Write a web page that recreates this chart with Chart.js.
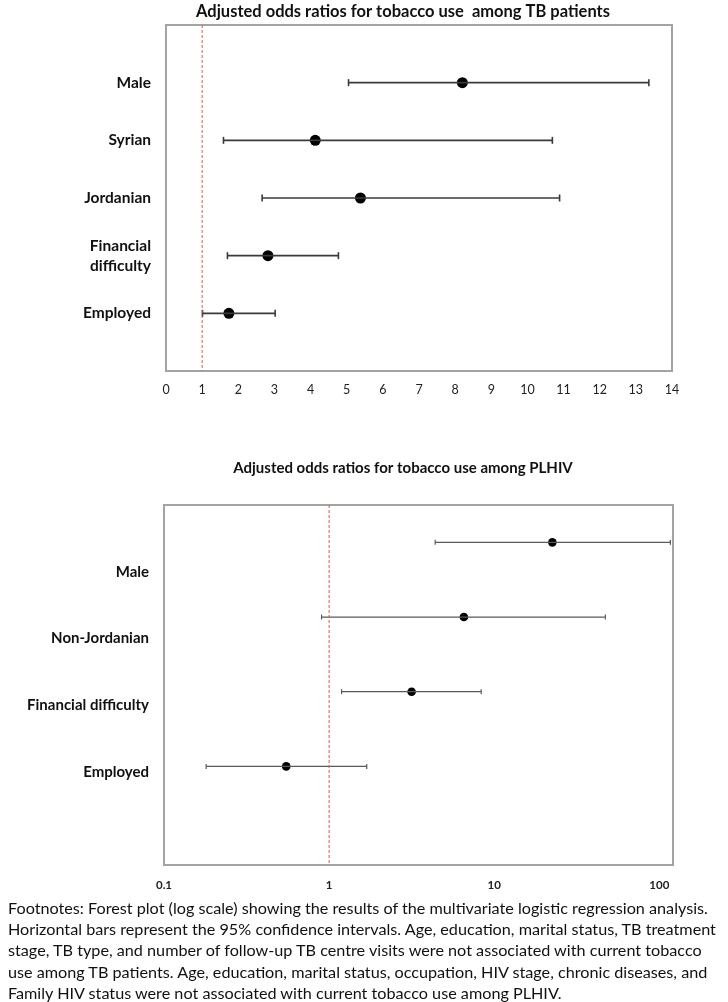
<!DOCTYPE html>
<html><head><meta charset="utf-8">
<script src="https://cdn.jsdelivr.net/npm/chart.js@4.4.0/dist/chart.umd.min.js"></script>
<style>
body{margin:0;background:#fff;width:728px;height:1002px;overflow:hidden;position:relative;font-family:Lato,sans-serif}
#w1{position:absolute;left:0;top:0;width:806px;height:400px}
#w2{position:absolute;left:0;top:455px;width:806px;height:445px}
#foot{position:absolute;left:8px;top:897px;font-size:16.2px;line-height:21.2px;color:#111;white-space:nowrap;font-family:Lato,sans-serif}
</style></head><body>
<div id="w1"><canvas id="c1" width="806" height="400"></canvas></div>
<div id="w2"><canvas id="c2" width="806" height="445"></canvas></div>
<div id="foot">Footnotes: Forest plot (log scale) showing the results of the multivariate logistic regression analysis.<br>Horizontal bars represent the 95% confidence intervals. Age, education, marital status, TB treatment<br>stage, TB type, and number of follow-up TB centre visits were not associated with current tobacco<br>use among TB patients. Age, education, marital status, occupation, HIV stage, chronic diseases, and<br>Family HIV status were not associated with current tobacco use among PLHIV.</div>
<script>
// ---- Data: TB patients (linear scale) ----
const tbTitle = 'Adjusted odds ratios for tobacco use  among TB patients';
const tbCategories = ['Male', 'Syrian', 'Jordanian', ['Financial', 'difficulty'], 'Employed'];
const tbOR    = [8.2, 4.13, 5.38, 2.82, 1.74];
const tbLower = [5.05, 1.59, 2.66, 1.70, 1.01];
const tbUpper = [13.36, 10.69, 10.89, 4.77, 3.02];
const tbXTicks = [0, 1, 2, 3, 4, 5, 6, 7, 8, 9, 10, 11, 12, 13, 14];

// ---- Data: PLHIV (log scale) ----
const hivTitle = 'Adjusted odds ratios for tobacco use among PLHIV';
const hivCategories = ['Male', 'Non-Jordanian', 'Financial difficulty', 'Employed'];
const hivOR    = [22.5, 6.55, 3.16, 0.55];
const hivLower = [4.39, 0.90, 1.19, 0.18];
const hivUpper = [116.7, 47.1, 8.34, 1.69];
const hivXTicks = [0.1, 1, 10, 100];

const refValue = 1;

const FONT = 'Lato, "Open Sans", sans-serif';

const boxPlugin = {
  id: 'box',
  beforeDatasetsDraw(chart) {
    const {ctx, chartArea: a} = chart;
    ctx.save();
    ctx.strokeStyle = '#a3a3a3';
    ctx.lineWidth = 2;
    ctx.strokeRect(a.left, a.top, a.right - a.left, a.bottom - a.top);
    ctx.restore();
  }
};

function buildDatasets(or, lo, hi, yOf, yMin, yMax, st) {
  const ds = [];
  ds.push({
    data: [{x: refValue, y: yMin}, {x: refValue, y: yMax}],
    showLine: true, borderColor: '#e0554f', borderWidth: 1, borderDash: [3, 2],
    pointRadius: 0, yAxisID: 'y'
  });
  for (let i = 0; i < or.length; i++) {
    ds.push({
      data: [{x: lo[i], y: yOf(i)}, {x: hi[i], y: yOf(i)}],
      showLine: true, borderColor: st.lineColor, borderWidth: st.lineWidth,
      pointStyle: 'line', rotation: 90, pointRadius: st.capR,
      pointBorderColor: st.lineColor, pointBorderWidth: st.lineWidth,
      pointHoverRadius: st.capR, yAxisID: 'y'
    });
  }
  ds.push({
    data: or.map((v, i) => ({x: v, y: yOf(i)})),
    showLine: false, pointStyle: 'circle', pointRadius: st.dotR,
    pointBackgroundColor: '#000', pointBorderColor: '#000', pointBorderWidth: 0,
    yAxisID: 'y'
  });
  return ds;
}

// invisible right-side spacer axis so the full-width title centres like the original
function spacer(w) {
  return {
    type: 'linear', position: 'right', display: true,
    afterFit: s => { s.width = w; },
    grid: {display: false, drawTicks: false}, border: {display: false},
    ticks: {display: false}
  };
}

// ---------- Chart 1 ----------
new Chart(document.getElementById('c1'), {
  type: 'scatter',
  data: {datasets: buildDatasets(tbOR, tbLower, tbUpper, i => i + 1, 0, tbCategories.length + 1,
    {lineColor: '#3a3a3a', lineWidth: 1.6, capR: 3.5, dotR: 5.5})},
  options: {
    responsive: false, animation: false,
    layout: {padding: 0},
    plugins: {
      legend: {display: false}, tooltip: {enabled: false},
      title: {display: true, text: tbTitle, color: '#111',
        font: {family: FONT, size: 16.5, weight: 'bold'}, padding: {top: 0, bottom: 3.2}}
    },
    scales: {
      x: {
        type: 'linear', min: tbXTicks[0], max: tbXTicks[tbXTicks.length - 1],
        afterBuildTicks: s => { s.ticks = tbXTicks.map(v => ({value: v})); },
        afterFit: s => { s.height = 29; },
        grid: {display: false, drawTicks: false}, border: {display: false},
        ticks: {padding: 11, autoSkip: false, maxRotation: 0, color: '#222',
          font: {family: FONT, size: 12.5}}
      },
      y: {
        type: 'linear', reverse: true, min: 0, max: tbCategories.length + 1,
        afterBuildTicks: s => { s.ticks = tbCategories.map((c, i) => ({value: i + 1})); },
        afterFit: s => { s.width = 166; },
        grid: {display: false, drawTicks: false}, border: {display: false},
        ticks: {padding: 15, color: '#111', autoSkip: false,
          font: {family: FONT, size: 15.5, weight: 'bold', lineHeight: 1.29},
          callback: v => tbCategories[v - 1]}
      },
      yr: spacer(134)
    }
  },
  plugins: [boxPlugin]
});

// ---------- Chart 2 ----------
const hivYMin = -0.5, hivYMax = 4.32;
new Chart(document.getElementById('c2'), {
  type: 'scatter',
  data: {datasets: buildDatasets(hivOR, hivLower, hivUpper, i => i, hivYMin, hivYMax,
    {lineColor: '#5a5a5a', lineWidth: 1.2, capR: 2.5, dotR: 4.3})},
  options: {
    responsive: false, animation: false,
    layout: {padding: 0},
    plugins: {
      legend: {display: false}, tooltip: {enabled: false},
      title: {display: true, text: hivTitle, color: '#111',
        font: {family: FONT, size: 15, weight: 'bold'}, padding: {top: 4, bottom: 28}}
    },
    scales: {
      x: {
        type: 'logarithmic', min: 0.1, max: 121,
        afterBuildTicks: s => { s.ticks = hivXTicks.map(v => ({value: v})); },
        afterFit: s => { s.height = 35; },
        grid: {display: false, drawTicks: false}, border: {display: false},
        ticks: {padding: 13, autoSkip: false, maxRotation: 0, color: '#222',
          font: {family: FONT, size: 11.5, weight: 'bold'},
          callback: v => String(v)}
      },
      yl: {
        type: 'linear', position: 'left', reverse: true, min: -1, max: 4.39,
        afterBuildTicks: s => { s.ticks = hivCategories.map((c, i) => ({value: i})); },
        afterFit: s => { s.width = 164; },
        grid: {display: false, drawTicks: false}, border: {display: false},
        ticks: {padding: 15, color: '#111', autoSkip: false,
          font: {family: FONT, size: 15, weight: 'bold'},
          callback: v => hivCategories[v]}
      },
      y: {
        type: 'linear', display: false, reverse: true, min: hivYMin, max: hivYMax
      },
      yr: spacer(133)
    }
  },
  plugins: [boxPlugin]
});
</script>
</body></html>
